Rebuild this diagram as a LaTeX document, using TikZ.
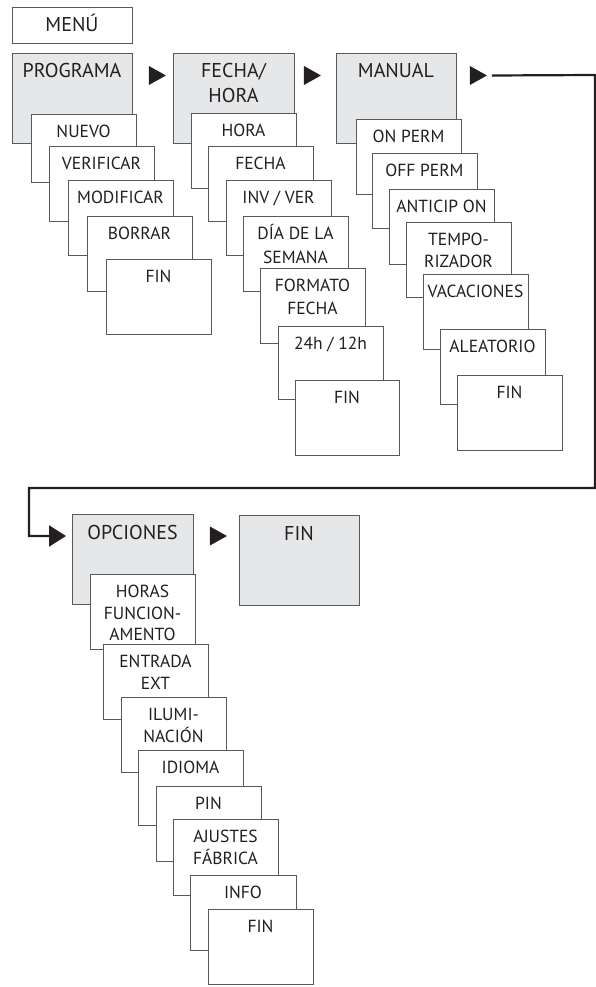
\documentclass[tikz,border=0pt]{standalone}
\usepackage{fontspec}
\setmainfont{PT Sans}
\usetikzlibrary{arrows.meta,shapes.geometric}
\definecolor{boxline}{HTML}{58595B}
\definecolor{boxgray}{HTML}{E6E7E8}
\definecolor{ink}{HTML}{231F20}
\newcommand\mystrut{\rule{0pt}{20pt}}
\newcommand\mybox[5][]{%
  \node[box,#1] (#2) at (#3,#4) {};
  \node[lab] (#2t) at ([yshift=-3.3pt]#2.north) {\mystrut#5};}
\newcommand\mainbox[5][]{%
  \node[box,main,#1] (#2) at (#3,#4) {};
  \node[lab,labmain] (#2t) at ([yshift=-4.8pt]#2.north) {\mystrut#5};}
\begin{document}
\begin{tikzpicture}[x=1pt,y=-1pt,
  box/.style={draw=boxline, fill=white, line width=0.9pt, inner sep=0pt, outer sep=0pt,
    anchor=north west, minimum width=105pt, minimum height=75pt},
  main/.style={fill=boxgray, minimum width=120pt, minimum height=90pt},
  lab/.style={anchor=north, inner sep=0pt, align=center, text=ink,
    font=\fontsize{17.5}{21.5}\selectfont},
  labmain/.style={font=\fontsize{20}{25}\selectfont},
  tri/.style={isosceles triangle, isosceles triangle apex angle=60,
    isosceles triangle stretches, fill=ink, inner sep=0pt, outer sep=0pt,
    minimum height=17pt, minimum width=19pt},
  conn/.style={draw=ink, line width=2.2pt}]
\useasboundingbox (0,0) rectangle (595,987);
% top
\mainbox[fill=white, minimum width=120pt, minimum height=36pt]{menu}{12}{7}{MENÚ}
% PROGRAMA column
\mainbox{prog}{12}{53}{PROGRAMA}
\mybox[minimum height=68pt]{p1}{31}{114}{NUEVO}
\mybox{p2}{49}{146}{VERIFICAR}
\mybox{p3}{68}{180}{MODIFICAR}
\mybox{p4}{87}{216}{BORRAR}
\mybox{p5}{106}{259}{FIN}
% FECHA/HORA column
\mainbox[minimum width=121pt]{fh}{173}{53}{FECHA/\\HORA}
\mybox{f1}{191}{113}{HORA}
\mybox{f2}{208}{146}{FECHA}
\mybox{f3}{226}{180}{INV / VER}
\mybox{f4}{243}{216}{DÍA DE LA\\[2.5pt]SEMANA}
\mybox{f5}{260}{268}{FORMATO\\[1.5pt]FECHA}
\mybox[minimum height=73pt]{f6}{278}{326}{24h / 12h}
\mybox[minimum width=104pt]{f7}{295}{380}{FIN}
% MANUAL column
\mainbox{man}{336}{53}{MANUAL}
\mybox{m1}{356}{119}{ON PERM}
\mybox{m2}{372}{153}{OFF PERM}
\mybox{m3}{389}{189}{ANTICIP ON}
\mybox{m4}{406}{222}{TEMPO-\\RIZADOR}
\mybox{m5}{423}{274}{VACACIONES}
\mybox{m6}{440}{329}{ALEATORIO}
\mybox{m7}{457}{375}{FIN}
% OPCIONES column
\mainbox[minimum width=121pt]{opc}{72}{514}{OPCIONES}
\mainbox{fin}{239}{515}{FIN}
\mybox{o1}{90}{574}{HORAS\\FUNCION-\\AMENTO}
\mybox{o2}{103}{644}{ENTRADA\\EXT}
\mybox{o3}{121}{697}{ILUMI-\\NACIÓN}
\mybox{o4}{138}{750}{IDIOMA}
\mybox{o5}{156}{786}{PIN}
\mybox[minimum height=76pt]{o6}{173}{819}{AJUSTES\\FÁBRICA}
\mybox[minimum width=106pt]{o7}{190}{875}{INFO}
\mybox{o8}{208}{909}{FIN}
% triangles
\node[tri] (t1) at (154.5,75.5) {};
\node[tri] (t2) at (309.5,75.5) {};
\node[tri] (t3) at (475.5,75.5) {};
\node[tri] (t4) at (215.5,536) {};
% connector
\coordinate (r1) at (595,75);
\coordinate (r2) at (29,488);
\draw[conn, -{Triangle[length=17pt,width=21pt]}]
  ([xshift=5pt]t3.east) -- (r1) |- (r2) |- ([xshift=-6pt,yshift=-22pt]opc.north west);
\end{tikzpicture}
\end{document}
